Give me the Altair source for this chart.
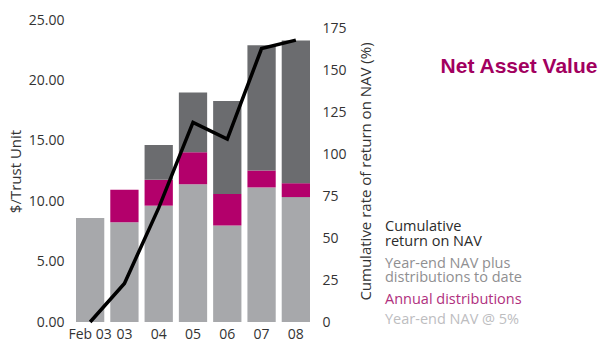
import altair as alt
import pandas as pd

periods = ["Feb 03", "03", "04", "05", "06", "07", "08"]
year_end_nav = [8.60, 8.25, 9.63, 11.41, 7.98, 11.14, 10.34]
annual_distributions = [0.00, 2.70, 2.14, 2.64, 2.62, 1.40, 1.15]
nav_plus_distributions = [None, None, 14.66, 19.00, 18.30, 22.90, 23.30]
cumulative_return = [0, 23, 68, 119, 109, 163, 168]

left_ticks = [0, 5, 10, 15, 20, 25]
right_ticks = [0, 25, 50, 75, 100, 125, 150, 175]

legend_items = [
    "Cumulative\nreturn on NAV",
    "Year-end NAV plus\ndistributions to date",
    "Annual distributions",
    "Year-end NAV @ 5%",
]
legend_colors = ["#2b2b2b", "#8f8f91", "#b0307e", "#bdbdbf"]
chart_title = "Net Asset Value"

LIGHT = "#a7a8ab"
MAGENTA = "#b3006b"
DARK = "#6b6c6f"
FONT = "Open Sans"

df = pd.DataFrame({
    "period": periods,
    "nav": year_end_nav,
    "dist": annual_distributions,
    "total": nav_plus_distributions,
    "ret": cumulative_return,
})
df["dist_top"] = df["nav"] + df["dist"]

W, H = 240, 302

x_enc = alt.X(
    "period:N",
    sort=periods,
    scale=alt.Scale(paddingInner=0.175, paddingOuter=0.0875),
    axis=alt.Axis(title=None, labelAngle=0, labelPadding=5),
)
y_scale = alt.Scale(domain=[0, 25], nice=False)
y_axis = alt.Axis(values=left_ticks, format=".2f", title="$/Trust Unit",
                  labelPadding=9, titlePadding=5)

base = alt.Chart(df)
light = base.mark_bar(color=LIGHT).encode(
    x=x_enc,
    y=alt.Y("nav:Q", scale=y_scale, axis=y_axis),
    y2=alt.datum(0),
)
mag = base.mark_bar(color=MAGENTA).transform_filter("datum.dist > 0").encode(
    x=x_enc,
    y=alt.Y("dist_top:Q", scale=y_scale, axis=y_axis),
    y2="nav:Q",
)
dark = base.mark_bar(color=DARK).transform_filter("isValid(datum.total)").encode(
    x=x_enc,
    y=alt.Y("total:Q", scale=y_scale, axis=y_axis),
    y2="dist_top:Q",
)
bars = alt.layer(light, mag, dark)

line = base.mark_line(color="black", strokeWidth=3.5).encode(
    x=x_enc,
    y=alt.Y(
        "ret:Q",
        scale=alt.Scale(domain=[0, 180], nice=False),
        axis=alt.Axis(
            orient="right",
            values=right_ticks,
            format="d",
            title="Cumulative rate of return on NAV (%)",
            titleAngle=270,
            labelPadding=9,
            titlePadding=27,
        ),
    ),
)

tops = [200, 236.5, 272.5, 293]
texts = []
for label, color, top in zip(legend_items, legend_colors, tops):
    texts.append(
        alt.Chart(pd.DataFrame({"label": [label]}))
        .mark_text(
            align="left", baseline="top", font=FONT, fontSize=14.5,
            lineBreak="\n", lineHeight=14.5, color=color,
        )
        .encode(text="label:N", x=alt.value(312), y=alt.value(top))
    )

title_txt = (
    alt.Chart(pd.DataFrame({"label": [chart_title]}))
    .mark_text(align="center", baseline="middle", font="Liberation Sans",
               fontSize=21, fontWeight="bold", color="#a2005f")
    .encode(text="label:N", x=alt.value(446), y=alt.value(47))
)

chart = (
    alt.layer(bars, line, *texts, title_txt)
    .resolve_scale(y="independent")
    .properties(width=W, height=H, padding={"left": 8, "top": 13, "right": 5, "bottom": 2})
    .configure_view(stroke=None)
    .configure_axis(
        labelFont=FONT, labelFontSize=14, labelColor="#333333",
        titleFont=FONT, titleFontSize=15, titleFontWeight="normal", titleColor="#333333",
        domain=False, ticks=False, grid=False,
    )
)

chart.save("out.html", embed_options={"renderer": "svg", "actions": False})
